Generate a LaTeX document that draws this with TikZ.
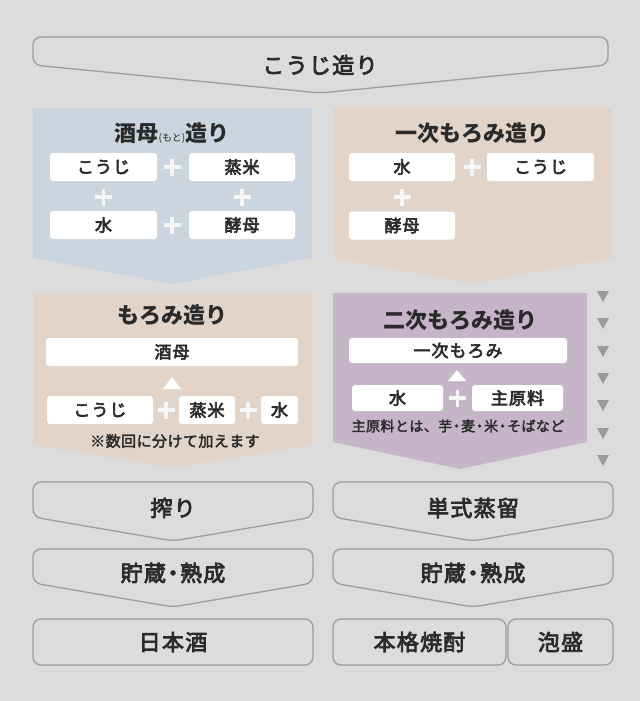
\documentclass[tikz,border=0pt]{standalone}
\usepackage{fontspec}
\setmainfont{Noto Sans CJK JP}
\newfontfamily\medfont[FakeBold=3.5,LetterSpace=6]{Noto Sans CJK JP}
\newfontfamily\notefont[FakeBold=2.5,LetterSpace=3]{Noto Sans CJK JP}
\definecolor{bgc}{HTML}{DCDCDC}
\definecolor{outc}{HTML}{9C9C9C}
\definecolor{txt}{HTML}{2A2A2A}
\definecolor{bluep}{HTML}{CBD5DF}
\definecolor{beigep}{HTML}{E3D4CA}
\definecolor{purp}{HTML}{C6B5C9}
\definecolor{tri}{HTML}{9A9A9A}
\definecolor{plusc}{HTML}{F6F6F6}
\tikzset{
  outl/.style={fill=bgc, draw=outc, line width=1.3pt, rounded corners=8pt},
  ttl/.style={text=txt, font=\medfont\fontsize{22}{22}\selectfont},
  ptl/.style={text=txt, font=\bfseries\fontsize{22}{22}\selectfont},
  wbox/.style={fill=white, rounded corners=3pt, inner sep=0pt, text=txt,
    font=\medfont\fontsize{17}{17}\selectfont, minimum height=28pt},
  note/.style={text=txt, font=\notefont\fontsize{15}{15}\selectfont},
  plusl/.style={draw=plusc, line width=3.5pt},
  uptri/.style={fill=white},
  dntri/.style={fill=tri},
}
\newcommand{\plusat}[2]{\draw[plusl] (#1-8.5,#2) -- (#1+8.5,#2) (#1,#2-8.5) -- (#1,#2+8.5);}
\newcommand{\dtri}[1]{\fill[dntri] (597,#1-5) -- (609,#1-5) -- (603,#1+6) -- cycle;}
\newcommand{\tdot}{\kern-0.18em・\kern-0.18em}
\begin{document}
\begin{tikzpicture}[x=1pt,y=-1pt]
\fill[bgc] (0,0) rectangle (640,701);
\useasboundingbox (0,0) rectangle (640,701);

% top banner
\draw[outl] (320,93) -- (33,65) -- (33,37) -- (608,37) -- (608,65) -- cycle;
\node[ttl] (koujizukuri) at (320,65) {こうじ造り};

% top-left panel
\fill[bluep] (33,108) -- (312,108) -- (312,258) -- (172,284) -- (33,258) -- cycle;
\node[ptl] (shubo) at (172,133) {酒母{\mdseries\fontsize{10}{10}\selectfont(もと)}造り};
\node[wbox, minimum width=107pt] (a1) at (103.5,167) {こうじ};
\node[wbox, minimum width=106pt] (a2) at (242,167) {蒸米};
\node[wbox, minimum width=107pt] (a3) at (103.5,225) {水};
\node[wbox, minimum width=106pt] (a4) at (242,225) {酵母};
\plusat{172}{167}
\plusat{103.5}{197}
\plusat{242}{197}
\plusat{172}{225}

% top-right panel
\fill[beigep] (333,108) -- (612,108) -- (612,258) -- (472,284) -- (333,258) -- cycle;
\node[ptl] (ichiji) at (472,133) {一次もろみ造り};
\node[wbox, minimum width=106pt] (b1) at (402,167) {水};
\node[wbox, minimum width=107pt] (b2) at (540.5,167) {こうじ};
\node[wbox, minimum width=106pt] (b3) at (402,225.5) {酵母};
\plusat{472}{167}
\plusat{402}{197}

% bottom-left panel
\fill[beigep] (33,293) -- (312,293) -- (312,445) -- (172,468) -- (33,445) -- cycle;
\node[ptl] (moromi) at (172,315) {もろみ造り};
\node[wbox, minimum width=252pt] (c0) at (172,352) {酒母};
\fill[uptri] (172,377) -- (181,389) -- (163,389) -- cycle;
\node[wbox, minimum width=106pt] (c1) at (100,410) {こうじ};
\node[wbox, minimum width=56pt] (c2) at (207,410) {蒸米};
\node[wbox, minimum width=37pt] (c3) at (279.5,410) {水};
\plusat{166}{410}
\plusat{248}{410}
\node[note] (cnote) at (175,441) {※数回に分けて加えます};

% bottom-right panel
\fill[purp] (333,293) -- (587,293) -- (587,442) -- (460,469) -- (333,442) -- cycle;
\node[ptl] (niji) at (460,320) {二次もろみ造り};
\node[wbox, minimum width=218pt, minimum height=25pt] (d0) at (458,350.5) {一次もろみ};
\fill[uptri] (457,370) -- (466,381) -- (448,381) -- cycle;
\node[wbox, minimum width=91pt, minimum height=26pt] (d1) at (397.5,398) {水};
\node[wbox, minimum width=91pt, minimum height=26pt] (d2) at (517.5,398) {主原料};
\plusat{457.5}{398}
\node[note, font=\notefont\fontsize{14}{14}\selectfont] (dnote) at (458,426) {主原料とは、芋\tdot 麦\tdot 米\tdot そばなど};

% gray triangles
\dtri{296}\dtri{323}\dtri{351}\dtri{378}\dtri{405}\dtri{433}\dtri{460}

% bottom left flow
\draw[outl] (173,541) -- (33,517) -- (33,482) -- (313,482) -- (313,517) -- cycle;
\node[ttl] (shibori) at (173,508) {搾り};
\draw[outl] (173,607) -- (33,583) -- (33,549) -- (313,549) -- (313,583) -- cycle;
\node[ttl] (chozo1) at (173,573) {貯蔵\tdot 熟成};
\draw[outl] (33,619) rectangle (313,665);
\node[ttl] (nihonshu) at (173,642) {日本酒};

% bottom right flow
\draw[outl] (473,541) -- (333,517) -- (333,482) -- (613,482) -- (613,517) -- cycle;
\node[ttl] (joryu) at (473,508) {単式蒸留};
\draw[outl] (473,607) -- (333,583) -- (333,549) -- (613,549) -- (613,583) -- cycle;
\node[ttl] (chozo2) at (473,573) {貯蔵\tdot 熟成};
\draw[outl] (333,619) rectangle (506,665);
\node[ttl] (shochu) at (419.5,642) {本格焼酎};
\draw[outl] (508,619) rectangle (613,665);
\node[ttl] (awamori) at (560.5,642) {泡盛};
\end{tikzpicture}
\end{document}
